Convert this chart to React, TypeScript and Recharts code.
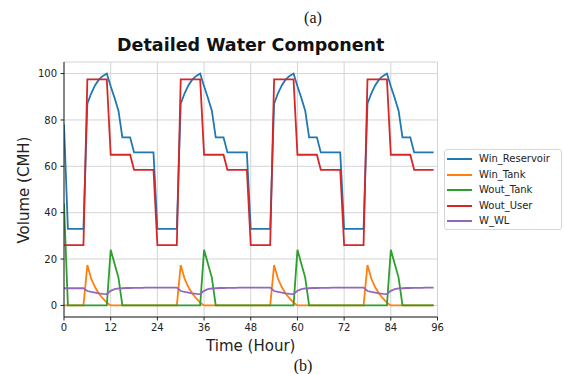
import React from 'react';
import { LineChart, Line, XAxis, YAxis, CartesianGrid, Legend } from 'recharts';

const hours = Array.from({ length: 96 }, (_, i) => i);

const winReservoir = [
  78, 33, 33, 33, 33, 33, 87, 91.5, 95, 97.5, 99, 100, 94.5, 89.5, 84, 72.5, 72.5, 72.5, 66, 66, 66, 66, 66, 66,
  33, 33, 33, 33, 33, 33, 87, 91.5, 95, 97.5, 99, 100, 94.5, 89.5, 84, 72.5, 72.5, 72.5, 66, 66, 66, 66, 66, 66,
  33, 33, 33, 33, 33, 33, 87, 91.5, 95, 97.5, 99, 100, 94.5, 89.5, 84, 72.5, 72.5, 72.5, 66, 66, 66, 66, 66, 66,
  33, 33, 33, 33, 33, 33, 87, 91.5, 95, 97.5, 99, 100, 94.5, 89.5, 84, 72.5, 72.5, 72.5, 66, 66, 66, 66, 66, 66,
];

const winTank = [
  0, 0, 0, 0, 0, 0, 17.4, 11.5, 7.8, 5.0, 3.0, 1.2, 0, 0, 0, 0, 0, 0, 0, 0, 0, 0, 0, 0,
  0, 0, 0, 0, 0, 0, 17.4, 11.5, 7.8, 5.0, 3.0, 1.2, 0, 0, 0, 0, 0, 0, 0, 0, 0, 0, 0, 0,
  0, 0, 0, 0, 0, 0, 17.4, 11.5, 7.8, 5.0, 3.0, 1.2, 0, 0, 0, 0, 0, 0, 0, 0, 0, 0, 0, 0,
  0, 0, 0, 0, 0, 0, 17.4, 11.5, 7.8, 5.0, 3.0, 1.2, 0, 0, 0, 0, 0, 0, 0, 0, 0, 0, 0, 0,
];

const woutTank = [
  44, 0, 0, 0, 0, 0, 0, 0, 0, 0, 0, 0, 24, 18, 12, 0, 0, 0, 0, 0, 0, 0, 0, 0,
  0, 0, 0, 0, 0, 0, 0, 0, 0, 0, 0, 0, 24, 18, 12, 0, 0, 0, 0, 0, 0, 0, 0, 0,
  0, 0, 0, 0, 0, 0, 0, 0, 0, 0, 0, 0, 24, 18, 12, 0, 0, 0, 0, 0, 0, 0, 0, 0,
  0, 0, 0, 0, 0, 0, 0, 0, 0, 0, 0, 0, 24, 18, 12, 0, 0, 0, 0, 0, 0, 0, 0, 0,
];

const woutUser = [
  26, 26, 26, 26, 26, 26, 97.5, 97.5, 97.5, 97.5, 97.5, 97.5, 65, 65, 65, 65, 65, 65, 58.5, 58.5, 58.5, 58.5, 58.5, 58.5,
  26, 26, 26, 26, 26, 26, 97.5, 97.5, 97.5, 97.5, 97.5, 97.5, 65, 65, 65, 65, 65, 65, 58.5, 58.5, 58.5, 58.5, 58.5, 58.5,
  26, 26, 26, 26, 26, 26, 97.5, 97.5, 97.5, 97.5, 97.5, 97.5, 65, 65, 65, 65, 65, 65, 58.5, 58.5, 58.5, 58.5, 58.5, 58.5,
  26, 26, 26, 26, 26, 26, 97.5, 97.5, 97.5, 97.5, 97.5, 97.5, 65, 65, 65, 65, 65, 65, 58.5, 58.5, 58.5, 58.5, 58.5, 58.5,
];

const wWL = [
  7.4, 7.4, 7.4, 7.4, 7.4, 7.4, 6.2, 5.8, 5.5, 5.2, 5.0, 4.9, 6.3, 7.0, 7.3, 7.4, 7.5, 7.5, 7.6, 7.6, 7.6, 7.7, 7.7, 7.7,
  7.7, 7.7, 7.7, 7.7, 7.7, 7.7, 6.2, 5.8, 5.5, 5.2, 5.0, 4.9, 6.3, 7.0, 7.3, 7.4, 7.5, 7.5, 7.6, 7.6, 7.6, 7.7, 7.7, 7.7,
  7.7, 7.7, 7.7, 7.7, 7.7, 7.7, 6.2, 5.8, 5.5, 5.2, 5.0, 4.9, 6.3, 7.0, 7.3, 7.4, 7.5, 7.5, 7.6, 7.6, 7.6, 7.7, 7.7, 7.7,
  7.7, 7.7, 7.7, 7.7, 7.7, 7.7, 6.2, 5.8, 5.5, 5.2, 5.0, 4.9, 6.3, 7.0, 7.3, 7.4, 7.5, 7.5, 7.6, 7.6, 7.6, 7.7, 7.7, 7.7,
];

const seriesNames = ['Win_Reservoir', 'Win_Tank', 'Wout_Tank', 'Wout_User', 'W_WL'];
const seriesColors = ['#1f77b4', '#ff7f0e', '#2ca02c', '#d62728', '#9467bd'];
const seriesValues = [winReservoir, winTank, woutTank, woutUser, wWL];

const xTicks = [0, 12, 24, 36, 48, 60, 72, 84, 96];
const yTicks = [0, 20, 40, 60, 80, 100];

const data = hours.map((h, i) => {
  const row: Record<string, number> = { h };
  seriesNames.forEach((n, k) => {
    row[n] = seriesValues[k][i];
  });
  return row;
});

const FONT = '"DejaVu Sans", sans-serif';

const LegendBox = () => (
  <div
    style={{
      width: 118,
      boxSizing: 'border-box',
      border: '1px solid #d6d6d6',
      borderRadius: 3,
      background: 'rgba(255,255,255,0.8)',
      paddingTop: 0,
      paddingBottom: 2.4,
      fontFamily: FONT,
      fontSize: 10,
      color: '#222',
    }}
  >
    {seriesNames.map((n, k) => (
      <div
        key={n}
        style={{ display: 'flex', alignItems: 'center', height: 12, marginTop: 3.4, whiteSpace: 'nowrap' }}
      >
        <span
          style={{ display: 'inline-block', marginLeft: 2, width: 25, height: 0, borderTop: `2px solid ${seriesColors[k]}` }}
        />
        <span style={{ marginLeft: 7, lineHeight: '12px' }}>{n}</span>
      </div>
    ))}
  </div>
);

export default function App() {
  return (
    <div style={{ position: 'absolute', left: 0, top: 0, width: 565, height: 374, background: '#fff' }}>
      <div
        style={{
          position: 'absolute', left: 263, top: 8, width: 100, textAlign: 'center',
          fontFamily: '"Liberation Serif", serif', fontSize: 16, lineHeight: '20px', color: '#111',
        }}
      >
        (a)
      </div>
      <LineChart width={565} height={374} data={data} margin={{ top: 62, right: 127.5, bottom: 0, left: 0 }}>
        <CartesianGrid stroke="#d4d4d4" strokeWidth={1} />
        <XAxis
          dataKey="h"
          type="number"
          domain={[0, 96]}
          ticks={xTicks}
          allowDataOverflow
          height={57}
          tickSize={3.5}
          tickMargin={3.5}
          stroke="#222"
          tick={{ fill: '#222', fontSize: 10, fontFamily: FONT }}
        />
        <XAxis
          xAxisId="frameTop"
          orientation="top"
          dataKey="h"
          type="number"
          domain={[0, 96]}
          ticks={xTicks}
          height={0}
          tick={false}
          tickLine={false}
          stroke="#222"
        />
        <YAxis
          type="number"
          domain={[-5, 105]}
          ticks={yTicks}
          allowDataOverflow
          width={64}
          tickSize={3.5}
          tickMargin={3.5}
          stroke="#222"
          tick={{ fill: '#222', fontSize: 10, fontFamily: FONT }}
        />
        <YAxis
          yAxisId="frameRight"
          orientation="right"
          type="number"
          domain={[-5, 105]}
          ticks={yTicks}
          width={0}
          tick={false}
          tickLine={false}
          stroke="#222"
        />
        {seriesNames.map((n, k) => (
          <Line
            key={n}
            type="linear"
            dataKey={n}
            name={n}
            stroke={seriesColors[k]}
            strokeWidth={1.8}
            dot={false}
            activeDot={false}
            isAnimationActive={false}
          />
        ))}
        <Legend
          layout="vertical"
          align="center"
          verticalAlign="middle"
          content={<LegendBox />}
          wrapperStyle={{ position: 'absolute', left: 444, top: 149, width: 118 }}
        />
      </LineChart>
      <div
        style={{
          position: 'absolute', left: 64, top: 35, width: 373.5, textAlign: 'center',
          fontFamily: FONT, fontWeight: 'bold', fontSize: 17.5, lineHeight: '20px', color: '#111',
        }}
      >
        Detailed Water Component
      </div>
      <div
        style={{
          position: 'absolute', left: 64, top: 337, width: 373.5, textAlign: 'center',
          fontFamily: FONT, fontSize: 15, lineHeight: '18px', color: '#222',
        }}
      >
        Time (Hour)
      </div>
      <div
        style={{
          position: 'absolute', left: 24 - 100, top: 189.5 - 9, width: 200, height: 18, textAlign: 'center',
          fontFamily: FONT, fontSize: 15, lineHeight: '18px', color: '#222', transform: 'rotate(-90deg)',
        }}
      >
        Volume (CMH)
      </div>
      <div
        style={{
          position: 'absolute', left: 253, top: 356, width: 100, textAlign: 'center',
          fontFamily: '"Liberation Serif", serif', fontSize: 16, lineHeight: '20px', color: '#111',
        }}
      >
        (b)
      </div>
    </div>
  );
}
